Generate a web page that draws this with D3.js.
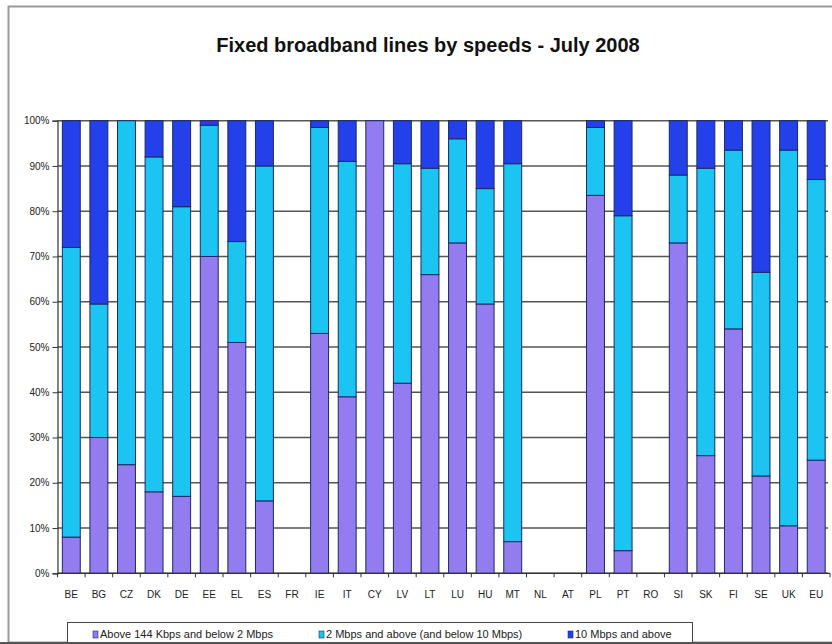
<!DOCTYPE html>
<html>
<head>
<meta charset="utf-8">
<script src="https://cdn.jsdelivr.net/npm/d3@7"></script>
<style>
  html, body { margin: 0; padding: 0; background: #fff; }
  svg { display: block; font-family: "Liberation Sans", Arial, sans-serif; }
</style>
</head>
<body>
<svg id="chart" width="832" height="644"></svg>
<script>
// Countries (EU27 + EU average) in display order
const countries = ["BE","BG","CZ","DK","DE","EE","EL","ES","FR","IE","IT","CY","LV","LT","LU","HU","MT","NL","AT","PL","PT","RO","SI","SK","FI","SE","UK","EU"];

// Share of fixed broadband lines per speed band (%); null = no data
const below2Mbps   = [8, 30, 24, 18, 17, 70, 51, 16, null, 53, 39, 100, 42, 66, 73, 59.5, 7, null, null, 83.5, 5, null, 73, 26, 54, 21.5, 10.5, 25];
const from2to10    = [64, 29.5, 76, 74, 64, 29, 22.3, 74, null, 45.5, 52, 0, 48.5, 23.5, 23, 25.5, 83.5, null, null, 15, 74, null, 15, 63.5, 39.5, 45, 83, 62];
const above10Mbps  = [28, 40.5, 0, 8, 19, 1, 26.7, 10, null, 1.5, 9, 0, 9.5, 10.5, 4, 15, 9.5, null, null, 1.5, 21, null, 12, 10.5, 6.5, 33.5, 6.5, 13];

const seriesNames = ["Above 144 Kbps and below 2 Mbps", "2 Mbps and above (and below 10 Mbps)", "10 Mbps and above"];
const seriesColors = ["#937cf0", "#1cc4f2", "#2340ea"];
const yTicks = [0, 10, 20, 30, 40, 50, 60, 70, 80, 90, 100];

const svg = d3.select("#chart");

// Outer frame
svg.append("rect")
  .attr("x", 8.5).attr("y", 6.5)
  .attr("width", 840).attr("height", 636)
  .attr("fill", "#fff")
  .attr("stroke", "#9a9a9a").attr("stroke-width", 2);

// Title
svg.append("text")
  .attr("x", 428).attr("y", 52)
  .attr("text-anchor", "middle")
  .attr("font-size", 20).attr("font-weight", "bold")
  .attr("fill", "#111")
  .text("Fixed broadband lines by speeds - July 2008");

const margin = { left: 57.5, right: 830, top: 120.7, bottom: 573.3 };

const x = d3.scaleBand()
  .domain(countries)
  .range([margin.left, margin.right])
  .paddingInner(0.35)
  .paddingOuter(0.175);

const y = d3.scaleLinear()
  .domain([0, 100])
  .range([margin.bottom, margin.top]);

// Horizontal gridlines
svg.append("g")
  .selectAll("line")
  .data(yTicks)
  .join("line")
  .attr("x1", margin.left).attr("x2", 828)
  .attr("y1", d => y(d)).attr("y2", d => y(d))
  .attr("stroke", "#555").attr("stroke-width", 1.5);

// Y axis
const yAxis = svg.append("g")
  .attr("transform", `translate(${margin.left},0)`)
  .call(d3.axisLeft(y).tickValues(yTicks).tickFormat(d => d + "%").tickSize(5).tickPadding(3));
yAxis.select(".domain").attr("stroke", "#333").attr("stroke-width", 1.2);
yAxis.selectAll(".tick line").attr("stroke", "#333");
yAxis.selectAll("text").attr("font-size", 10).attr("fill", "#222");

// Stacked data
const rows = countries.map((c, i) => ({
  country: c,
  s0: below2Mbps[i], s1: from2to10[i], s2: above10Mbps[i]
})).filter(r => r.s0 !== null);

const stack = d3.stack().keys(["s0", "s1", "s2"]);
const layers = stack(rows);

svg.append("g")
  .selectAll("g")
  .data(layers)
  .join("g")
  .attr("fill", (d, i) => seriesColors[i])
  .selectAll("rect")
  .data(d => d.filter(p => p[1] - p[0] > 0))
  .join("rect")
  .attr("x", d => x(d.data.country))
  .attr("width", x.bandwidth())
  .attr("y", d => y(d[1]))
  .attr("height", d => y(d[0]) - y(d[1]))
  .attr("stroke", "#1b2a62").attr("stroke-width", 1);

// X axis baseline and category boundary ticks
const step = x.step();
svg.append("line")
  .attr("x1", margin.left).attr("x2", margin.right)
  .attr("y1", margin.bottom).attr("y2", margin.bottom)
  .attr("stroke", "#333").attr("stroke-width", 1.2);

const boundaries = countries.map(c => x(c) - x.paddingInner() * step / 2).concat([x(countries[countries.length - 1]) + x.bandwidth() + x.paddingInner() * step / 2]);
svg.append("g")
  .selectAll("line")
  .data(boundaries)
  .join("line")
  .attr("x1", d => d).attr("x2", d => d)
  .attr("y1", margin.bottom).attr("y2", margin.bottom + 4)
  .attr("stroke", "#333");

svg.append("g")
  .selectAll("text")
  .data(countries)
  .join("text")
  .attr("x", d => x(d) + x.bandwidth() / 2)
  .attr("y", 598)
  .attr("text-anchor", "middle")
  .attr("font-size", 10)
  .attr("fill", "#222")
  .text(d => d);

// Legend
const legend = svg.append("g");
legend.append("rect")
  .attr("x", 67.5).attr("y", 622.5)
  .attr("width", 625).attr("height", 30)
  .attr("fill", "#fff").attr("stroke", "#444").attr("stroke-width", 1);

const legendX = [93, 319, 568];
seriesNames.forEach((name, i) => {
  legend.append("rect")
    .attr("x", legendX[i]).attr("y", 631)
    .attr("width", 5).attr("height", 7)
    .attr("fill", seriesColors[i]).attr("stroke", "#1b2a62").attr("stroke-width", 0.6);
  legend.append("text")
    .attr("x", legendX[i] + 7).attr("y", 638)
    .attr("font-size", 11)
    .attr("fill", "#222")
    .text(name);
});

// Bottom edge of the frame
svg.append("line")
  .attr("x1", 0).attr("x2", 832)
  .attr("y1", 643).attr("y2", 643)
  .attr("stroke", "#555").attr("stroke-width", 2);
</script>
</body>
</html>
